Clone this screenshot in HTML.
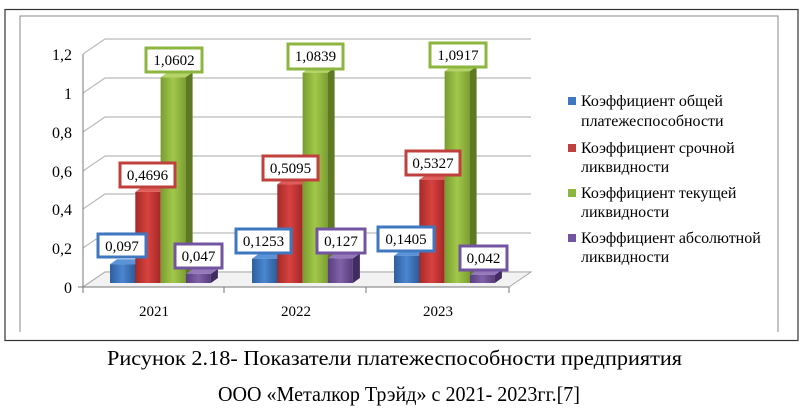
<!DOCTYPE html>
<html><head><meta charset="utf-8"><style>
html,body{margin:0;padding:0;background:#fff;}
svg{display:block;}
svg text{font-family:"Liberation Serif","DejaVu Serif",serif;}
</style></head><body>
<svg width="800" height="419" viewBox="0 0 800 419" xmlns="http://www.w3.org/2000/svg" font-family="Liberation Serif, serif">
<defs>
<linearGradient id="gb" x1="0" x2="1"><stop offset="0" stop-color="#2f5f9e"/><stop offset="0.5" stop-color="#4a86d0"/><stop offset="1" stop-color="#2d5c9a"/></linearGradient>
<linearGradient id="gr" x1="0" x2="1"><stop offset="0" stop-color="#a52a28"/><stop offset="0.5" stop-color="#d8423f"/><stop offset="1" stop-color="#a32826"/></linearGradient>
<linearGradient id="gg" x1="0" x2="1"><stop offset="0" stop-color="#7a9c30"/><stop offset="0.5" stop-color="#a2c84a"/><stop offset="1" stop-color="#7c9f32"/></linearGradient>
<linearGradient id="gp" x1="0" x2="1"><stop offset="0" stop-color="#5a3e80"/><stop offset="0.5" stop-color="#8062a8"/><stop offset="1" stop-color="#573c7c"/></linearGradient>
</defs>
<rect x="5" y="9.5" width="793" height="331" fill="#fff" stroke="#333" stroke-width="1.2"/>
<polyline points="20,332 20,16 778,16 778,332" fill="none" stroke="#888" stroke-width="1"/>
<g stroke="#bbb" stroke-width="1.2" fill="none">
<polyline points="83,287 105,272 531,272"/>
<polyline points="83,248 105,233 531,233"/>
<polyline points="83,209 105,194 531,194"/>
<polyline points="83,171 105,156 531,156"/>
<polyline points="83,132 105,117 531,117"/>
<polyline points="83,93 105,78 531,78"/>
<polyline points="83,54 105,39 531,39"/>
</g>
<polygon points="83,287 105,272 531,272 509,287" fill="#f2f2f2" stroke="#aaa"/>
<g stroke="#777" stroke-width="1"><line x1="83" y1="54" x2="83" y2="293"/><line x1="78" y1="287" x2="509" y2="287"/>
<line x1="224" y1="287" x2="224" y2="293"/><line x1="366" y1="287" x2="366" y2="293"/><line x1="509" y1="287" x2="509" y2="293"/></g>
<g font-size="16" text-anchor="end" fill="#000">
<text x="72" y="293">0</text><text x="72" y="254">0,2</text><text x="72" y="215">0,4</text><text x="72" y="177">0,6</text><text x="72" y="138">0,8</text><text x="72" y="99">1</text><text x="72" y="60">1,2</text>
</g>
<g font-size="15" text-anchor="middle"><text x="154" y="316">2021</text><text x="296" y="316">2022</text><text x="438" y="316">2023</text></g>

<g transform="translate(110,264.2)"><polygon points="25,18.8 32,13.8 32,-5 25,0" fill="#234a7c"/><polygon points="0,0 7,-5 32,-5 25,0" fill="#5b93d8"/><rect width="25" height="18.8" fill="url(#gb)"/></g>
<g transform="translate(135.3,191.9)"><polygon points="25,91.1 32,86.1 32,-5 25,0" fill="#862220"/><polygon points="0,0 7,-5 32,-5 25,0" fill="#e05c58"/><rect width="25" height="91.1" fill="url(#gr)"/></g>
<g transform="translate(160.6,77.3)"><polygon points="25,205.7 32,200.7 32,-5 25,0" fill="#5d7a22"/><polygon points="0,0 7,-5 32,-5 25,0" fill="#b5d466"/><rect width="25" height="205.7" fill="url(#gg)"/></g>
<g transform="translate(185.9,273.9)"><polygon points="25,9.1 32,4.1 32,-5 25,0" fill="#402c60"/><polygon points="0,0 7,-5 32,-5 25,0" fill="#9478bc"/><rect width="25" height="9.1" fill="url(#gp)"/></g>

<g transform="translate(252,258.7)"><polygon points="25,24.3 32,19.3 32,-5 25,0" fill="#234a7c"/><polygon points="0,0 7,-5 32,-5 25,0" fill="#5b93d8"/><rect width="25" height="24.3" fill="url(#gb)"/></g>
<g transform="translate(277.3,184.2)"><polygon points="25,98.8 32,93.8 32,-5 25,0" fill="#862220"/><polygon points="0,0 7,-5 32,-5 25,0" fill="#e05c58"/><rect width="25" height="98.8" fill="url(#gr)"/></g>
<g transform="translate(302.6,72.7)"><polygon points="25,210.3 32,205.3 32,-5 25,0" fill="#5d7a22"/><polygon points="0,0 7,-5 32,-5 25,0" fill="#b5d466"/><rect width="25" height="210.3" fill="url(#gg)"/></g>
<g transform="translate(327.9,258.4)"><polygon points="25,24.6 32,19.6 32,-5 25,0" fill="#402c60"/><polygon points="0,0 7,-5 32,-5 25,0" fill="#9478bc"/><rect width="25" height="24.6" fill="url(#gp)"/></g>

<g transform="translate(394,255.7)"><polygon points="25,27.3 32,22.3 32,-5 25,0" fill="#234a7c"/><polygon points="0,0 7,-5 32,-5 25,0" fill="#5b93d8"/><rect width="25" height="27.3" fill="url(#gb)"/></g>
<g transform="translate(419.3,179.7)"><polygon points="25,103.3 32,98.3 32,-5 25,0" fill="#862220"/><polygon points="0,0 7,-5 32,-5 25,0" fill="#e05c58"/><rect width="25" height="103.3" fill="url(#gr)"/></g>
<g transform="translate(444.6,71.2)"><polygon points="25,211.8 32,206.8 32,-5 25,0" fill="#5d7a22"/><polygon points="0,0 7,-5 32,-5 25,0" fill="#b5d466"/><rect width="25" height="211.8" fill="url(#gg)"/></g>
<g transform="translate(469.9,274.9)"><polygon points="25,8.1 32,3.1 32,-5 25,0" fill="#402c60"/><polygon points="0,0 7,-5 32,-5 25,0" fill="#9478bc"/><rect width="25" height="8.1" fill="url(#gp)"/></g>

<g stroke-width="3" fill="#fff">
<rect x="98" y="234" width="48" height="23" stroke="#3f78c0"/><rect x="120" y="163" width="55" height="24" stroke="#c0403d"/><rect x="146" y="48" width="56" height="24" stroke="#8db640"/><rect x="175" y="244" width="47" height="24" stroke="#7254a0"/>
<rect x="236" y="229" width="55" height="24" stroke="#3f78c0"/><rect x="263" y="156" width="55" height="24" stroke="#c0403d"/><rect x="288" y="44" width="55" height="25" stroke="#8db640"/><rect x="317" y="229" width="48" height="24" stroke="#7254a0"/>
<rect x="378" y="227" width="56" height="24" stroke="#3f78c0"/><rect x="406" y="151" width="54" height="24" stroke="#c0403d"/><rect x="430" y="43" width="56" height="24" stroke="#8db640"/><rect x="460" y="246" width="47" height="24" stroke="#7254a0"/>
</g>
<g font-size="15" text-anchor="middle" fill="#000">
<text x="122" y="251">0,097</text><text x="147.5" y="180">0,4696</text><text x="174" y="65">1,0602</text><text x="198.5" y="261">0,047</text>
<text x="263.5" y="246">0,1253</text><text x="290.5" y="173">0,5095</text><text x="315.5" y="61">1,0839</text><text x="341" y="246">0,127</text>
<text x="406" y="244">0,1405</text><text x="433" y="168">0,5327</text><text x="458" y="60">1,0917</text><text x="483.5" y="263">0,042</text>
</g>
<g font-size="16" fill="#000">
<rect x="568" y="97" width="8" height="8" fill="#3f78c0"/><text x="581" y="106">Коэффициент общей</text><text x="581" y="126">платежеспособности</text>
<rect x="568" y="144" width="8" height="8" fill="#c0403d"/><text x="581" y="153">Коэффициент срочной</text><text x="581" y="172">ликвидности</text>
<rect x="568" y="189" width="8" height="8" fill="#8db640"/><text x="581" y="198">Коэффициент текущей</text><text x="581" y="217">ликвидности</text>
<rect x="568" y="234" width="8" height="8" fill="#7254a0"/><text x="581" y="243">Коэффициент абсолютной</text><text x="581" y="262">ликвидности</text>
</g>
<g font-size="21" fill="#000">
<text x="107" y="365" textLength="575" lengthAdjust="spacingAndGlyphs">Рисунок 2.18- Показатели платежеспособности предприятия</text>
<text x="218" y="401" textLength="362" lengthAdjust="spacingAndGlyphs">ООО «Металкор Трэйд» с 2021- 2023гг.[7]</text>
</g>
</svg>
</body></html>
